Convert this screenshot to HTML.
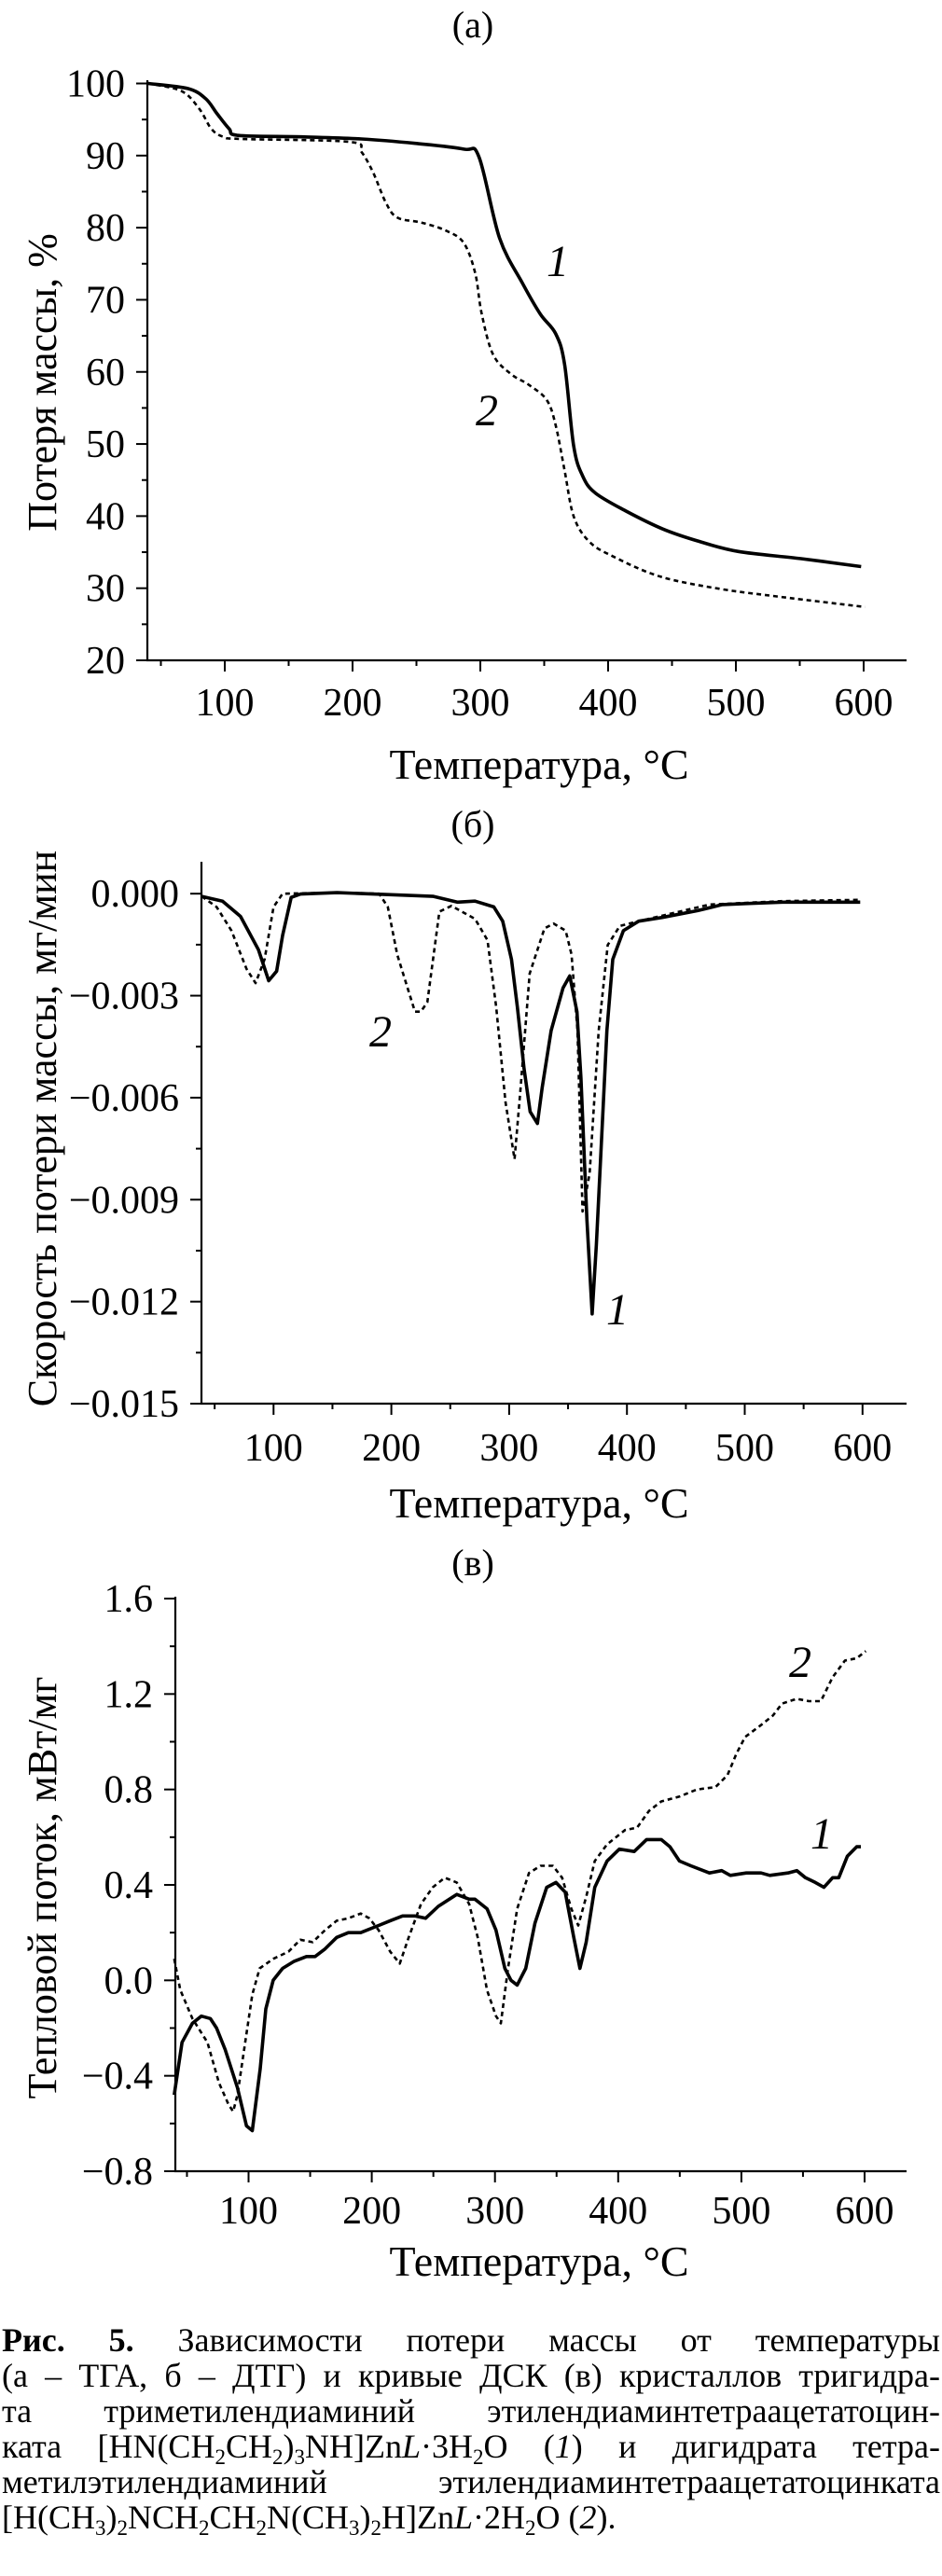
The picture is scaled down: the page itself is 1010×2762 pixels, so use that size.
<!DOCTYPE html>
<html><head><meta charset="utf-8">
<style>
html,body{margin:0;padding:0;background:#fff;}
body{width:1010px;height:2762px;position:relative;overflow:hidden;font-family:"Liberation Serif",serif;}
svg{position:absolute;left:0;top:0;}
svg text{font-family:"Liberation Serif",serif;fill:#000;}
.cap{position:absolute;left:2px;width:1006px;font-size:36px;line-height:38px;color:#000;font-family:"Liberation Serif",serif;}
.cap div{text-align:justify;text-align-last:justify;white-space:nowrap;height:38px;}
.cap div.last{text-align-last:left;}
sub{font-size:23px;vertical-align:-7px;line-height:0;}
</style></head>
<body>
<svg id="fig" width="1010" height="2762" viewBox="0 0 1010 2762"></svg>
<div class="cap" style="top:2490px">
<div><b>Рис. 5.</b> Зависимости потери массы от температуры</div>
<div>(а – ТГА, б – ДТГ) и кривые ДСК (в) кристаллов тригидра-</div>
<div>та триметилендиаминий этилендиаминтетраацетатоцин-</div>
<div>ката [HN(CH<sub>2</sub>CH<sub>2</sub>)<sub>3</sub>NH]Zn<i>L</i>·3H<sub>2</sub>O (<i>1</i>) и дигидрата тетра-</div>
<div>метилэтилендиаминий этилендиаминтетраацетатоцинката</div>
<div class="last">[H(CH<sub>3</sub>)<sub>2</sub>NCH<sub>2</sub>CH<sub>2</sub>N(CH<sub>3</sub>)<sub>2</sub>H]Zn<i>L</i>·2H<sub>2</sub>O (<i>2</i>).</div>
</div>
<script>
// Panel (a) TGA
const tgaT1 = [40,71,85,94,103.5,110.6,160,207,249,287,299,315,333,347,359,366,373,380,390,414,443,471,502,551,598];
const tgaV1 = [100,99.3,97.9,95.8,93.7,92.8,92.6,92.3,91.7,90.9,89.8,78.6,72.3,68,65.3,61,49.8,45.6,43.2,40.7,38.2,36.5,35.1,34.1,33.0];
const tgaT2 = [40,66,80,89.5,98.9,113,197.6,207,216,226,235,254,273,287,296,301,310,324,338,352,359,366,373,385,404,441,488,535,601];
const tgaV2 = [100,98.95,96.5,93.7,92.6,92.3,91.9,90.5,87.7,83.5,81.4,80.7,79.6,77.9,73.7,68.1,62.4,59.7,58.2,56.1,52.6,46.3,40,36.5,34.4,31.6,29.9,28.8,27.4];
const tgaYTicks = ["20","30","40","50","60","70","80","90","100"];
const xTickLabels = ["100","200","300","400","500","600"];
// Panel (б) DTG (values ×0.001)
const dtgT1 = [39,56.7,72,87.2,95.9,102.6,107.7,115,123,154,200,235.7,256,271,287,294.5,302,307,312.7,317.8,324,328,335.6,345.8,351.5,357.6,361,366,370.5,374,379,383,388,397,410,430,460,481,501,532,598];
const dtgV1 = [-0.08,-0.22,-0.67,-1.65,-2.56,-2.28,-1.23,-0.11,-0.01,0.03,-0.03,-0.08,-0.25,-0.22,-0.39,-0.81,-1.93,-3.33,-5.15,-6.41,-6.76,-5.71,-4.03,-2.77,-2.42,-3.47,-5.43,-9.6,-12.36,-10.33,-6.83,-4.03,-1.93,-1.09,-0.81,-0.7,-0.5,-0.32,-0.29,-0.25,-0.25];
const dtgT2 = [39,51.6,64.3,77,84.7,92.4,100,107.7,154,189.6,197,205,210,220,225,230.6,240.8,251,271,281.6,289,296.9,304.6,309.7,317.4,330,337.8,348,353,358,362.3,368.3,376,383.7,394,410,470,532,598];
const dtgV2 = [-0.08,-0.39,-1.09,-2.21,-2.63,-1.93,-0.39,0,0.03,0,-0.39,-1.79,-2.35,-3.47,-3.47,-3.19,-0.53,-0.36,-0.74,-1.37,-3.33,-6.13,-7.81,-5.71,-2.35,-1.02,-0.88,-1.09,-1.79,-4.03,-9.35,-8.23,-4.03,-1.51,-0.95,-0.81,-0.32,-0.22,-0.18];
const dtgYTicks = ["−0.015","−0.012","−0.009","−0.006","−0.003","0.000"];
// Panel (в) DSC
const dscT1 = [39.7,46,54.4,61.7,69,74,81,91,98.3,103,109.5,114,120,127.6,137,147,154,161.7,171.5,181,191,205.6,215,225,235,243.7,254,269,279,283.7,293.6,300.8,308,313,318,325,332.5,342,349.5,357,364,369,374,381,391,401,413,423,435,442,449.7,459,474,484,491,504,516,523,537.8,545,552,560,567,574,579,586,593.6,597];
const dscV1 = [-0.48,-0.26,-0.18,-0.15,-0.16,-0.2,-0.29,-0.45,-0.61,-0.63,-0.37,-0.12,0,0.05,0.08,0.1,0.1,0.13,0.18,0.2,0.2,0.23,0.25,0.27,0.27,0.26,0.31,0.36,0.34,0.34,0.3,0.21,0.05,0,-0.02,0.05,0.24,0.39,0.41,0.37,0.18,0.05,0.16,0.39,0.5,0.55,0.54,0.59,0.59,0.56,0.5,0.48,0.45,0.46,0.44,0.45,0.45,0.44,0.45,0.46,0.43,0.41,0.39,0.43,0.43,0.52,0.56,0.56];
const dscT2 = [39.7,44.6,54.4,66.6,76,83.7,87.5,91,97.3,103,109,120,132.4,142,152,162,171.5,181,191,198,205.6,215,222.7,230,240,249.5,259.3,269,279,286,293.5,300.8,304.8,310.6,318,327.6,337,347,354.5,362,367.6,374,381,391,405.6,415.4,425,435,449.7,464,479,488.7,496,503,516,525.6,533,545,554.7,564.5,574,584,593.6,601];
const dscV2 = [0.09,-0.04,-0.16,-0.26,-0.43,-0.52,-0.55,-0.48,-0.26,-0.06,0.05,0.09,0.12,0.17,0.16,0.21,0.25,0.26,0.28,0.26,0.21,0.12,0.07,0.18,0.32,0.39,0.43,0.41,0.32,0.18,-0.04,-0.15,-0.18,0.05,0.3,0.45,0.48,0.48,0.43,0.3,0.23,0.35,0.5,0.57,0.63,0.64,0.71,0.75,0.77,0.8,0.81,0.86,0.95,1.02,1.07,1.11,1.16,1.18,1.17,1.17,1.27,1.34,1.35,1.38];
const dscYTicks = ["−0.8","−0.4","0.0","0.4","0.8","1.2","1.6"];

const NS = "http://www.w3.org/2000/svg";
const svg = document.getElementById('fig');
function mk(tag, attrs, parent){ const e=document.createElementNS(NS,tag); for(const k in attrs) e.setAttribute(k,attrs[k]); (parent||svg).appendChild(e); return e; }
function txt(s, x, y, size, anchor, extra){ const t=mk('text',Object.assign({x:x,y:y,'font-size':size,'text-anchor':anchor||'middle'},extra||{})); t.textContent=s; return t; }

function pathD(pts, smooth){
  if(!smooth) return pts.map((p,i)=>(i?'L':'M')+p[0].toFixed(1)+' '+p[1].toFixed(1)).join(' ');
  let d = 'M'+pts[0][0].toFixed(1)+' '+pts[0][1].toFixed(1);
  for(let i=0;i<pts.length-1;i++){
    const p0=pts[Math.max(0,i-1)], p1=pts[i], p2=pts[i+1], p3=pts[Math.min(pts.length-1,i+2)];
    const c1=[p1[0]+(p2[0]-p0[0])/6, p1[1]+(p2[1]-p0[1])/6];
    const c2=[p2[0]-(p3[0]-p1[0])/6, p2[1]-(p3[1]-p1[1])/6];
    d += ` C${c1[0].toFixed(1)} ${c1[1].toFixed(1)} ${c2[0].toFixed(1)} ${c2[1].toFixed(1)} ${p2[0].toFixed(1)} ${p2[1].toFixed(1)}`;
  }
  return d;
}

function panel(cfg){
  const g = mk('g',{});
  
  
  const X = T => cfg.x0px + (T - cfg.xd0) * cfg.xs;
  const Y = v => cfg.yBot - (v - cfg.yMin) / (cfg.yMax - cfg.yMin) * (cfg.yBot - cfg.yTop);
  const ax = mk('path',{d:`M${cfg.left} ${cfg.axTop} L${cfg.left} ${cfg.yBot} L972 ${cfg.yBot}`,stroke:'#000','stroke-width':2.2,fill:'none'},g);
  
  
  for(let T=50; T<=600; T+=50){
    const major = T%100===0;
    mk('line',{x1:X(T),x2:X(T),y1:cfg.yBot,y2:cfg.yBot+(major?12:6),stroke:'#000','stroke-width':2},g);
  }
  xTickLabels.forEach(s=>{
    const t = txt(s, X(+s), cfg.xLabY, 42, 'middle');
    
    
    g.appendChild(t);
  });
  const n = cfg.yTicks.length;
  for(let i=0;i<n;i++){
    const v = cfg.yMin + i*cfg.yStep;
    mk('line',{x1:cfg.left-12,x2:cfg.left,y1:Y(v),y2:Y(v),stroke:'#000','stroke-width':2},g);
    if(i<n-1) mk('line',{x1:cfg.left-6,x2:cfg.left,y1:Y(v+cfg.yStep/2),y2:Y(v+cfg.yStep/2),stroke:'#000','stroke-width':2},g);
    const t = txt(cfg.yTicks[i], cfg.left-24, Y(v)+14, 42, 'end');
    
    
    g.appendChild(t);
  }
  const pt = txt(cfg.title, 507, cfg.titleY, 40, 'middle');
  
  
  const xt = txt('Температура, °C', 578, cfg.xTitleY, 46, 'middle');
  
  
  const yt = txt(cfg.yTitle, 0, 0, 44, 'middle', {transform:`translate(${cfg.yTitleX},${cfg.yTitleY}) rotate(-90)`});
  
  
  cfg.series.forEach(s=>{
    const pts = s.T.map((T,i)=>[X(T), Y(s.V[i]*(s.k||1))]);
    const p = mk('path',{d:pathD(pts, cfg.smooth),fill:'none',stroke:'#000','stroke-width':s.dot?2.6:3.6,'stroke-linejoin':'round','stroke-dasharray':s.dot?'5 4':'none'},g);
    
    
    const l = txt(s.label, s.lx, s.ly, 48, 'middle', {'font-style':'italic'});
    
    
  });
}

panel({name:'tga-chart', title:'(а)', titleY:40, left:158, axTop:86, yBot:708, x0px:241, xd0:100, xs:1.37,
  yMin:20, yMax:100, yTop:89.5, yStep:10, yTicks:tgaYTicks, xLabY:767, xTitleY:835, smooth:true,
  yTitle:'Потеря массы, %', yTitleX:60, yTitleY:410,
  series:[{name:'tga-curve-1',T:tgaT1,V:tgaV1,label:'1',lx:598,ly:296},
          {name:'tga-curve-2',T:tgaT2,V:tgaV2,dot:true,label:'2',lx:522,ly:456}]});

panel({name:'dtg-chart', title:'(б)', titleY:897, left:216, axTop:924, yBot:1505, x0px:293.3, xd0:100, xs:1.263,
  yMin:-0.015, yMax:0, yTop:958.2, yStep:0.003, yTicks:dtgYTicks, xLabY:1566, xTitleY:1627,
  yTitle:'Скорость потери массы, мг/мин', yTitleX:60, yTitleY:1210,
  series:[{name:'dtg-curve-1',T:dtgT1,V:dtgV1,k:0.001,label:'1',lx:662,ly:1420},
          {name:'dtg-curve-2',T:dtgT2,V:dtgV2,k:0.001,dot:true,label:'2',lx:408,ly:1122}]});

panel({name:'dsc-chart', title:'(в)', titleY:1689, left:188, axTop:1712, yBot:2328, x0px:266.5, xd0:100, xs:1.321,
  yMin:-0.8, yMax:1.6, yTop:1714, yStep:0.4, yTicks:dscYTicks, xLabY:2384, xTitleY:2440,
  yTitle:'Тепловой поток, мВт/мг', yTitleX:60, yTitleY:2024,
  series:[{name:'dsc-curve-1',T:dscT1,V:dscV1,label:'1',lx:881,ly:1982},
          {name:'dsc-curve-2',T:dscT2,V:dscV2,dot:true,label:'2',lx:858,ly:1798}]});
</script>
</body></html>
